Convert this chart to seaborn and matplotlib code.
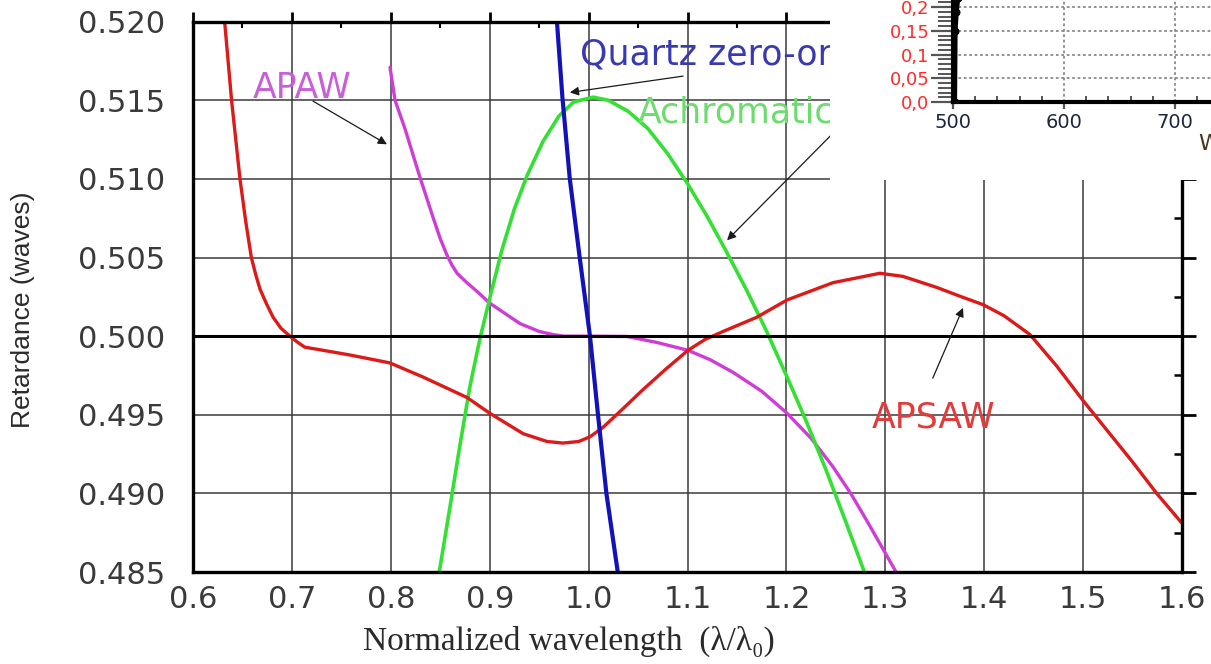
import matplotlib
matplotlib.use("Agg")
import matplotlib.pyplot as plt
import seaborn as sns
from matplotlib.patches import Rectangle
from matplotlib.ticker import MultipleLocator, FormatStrFormatter, FixedLocator, FixedFormatter

# ---------------- data ----------------
apsaw_x = [0.632, 0.639, 0.6475, 0.6533, 0.659, 0.6635, 0.6677, 0.674, 0.681, 0.689,
           0.698, 0.706, 0.713, 0.7315, 0.7588, 0.799, 0.8326, 0.877, 0.900, 0.9337, 0.958,
           0.974, 0.990, 1.0014, 1.0146, 1.035, 1.055, 1.078, 1.1005, 1.118, 1.136,
           1.170, 1.2006, 1.247, 1.2946, 1.318, 1.352, 1.375, 1.399, 1.420, 1.4463,
           1.4733, 1.500, 1.550, 1.5744, 1.600]
apsaw_y = [0.5200, 0.5150, 0.5100, 0.5073, 0.5050, 0.5039, 0.5030, 0.5021, 0.5012, 0.5005,
           0.5000, 0.4996, 0.4993, 0.4991, 0.4988, 0.4983, 0.4974, 0.4961, 0.4951, 0.4938, 0.4933,
           0.4932, 0.4933, 0.4936, 0.4942, 0.4954, 0.4966, 0.4979, 0.4991, 0.4998, 0.5003,
           0.5012, 0.5023, 0.5034, 0.5040, 0.5038, 0.5031, 0.50255, 0.5020, 0.5013, 0.5001,
           0.4981, 0.4959, 0.4920, 0.4900, 0.4881]

apaw_x = [0.7992, 0.8043, 0.8143, 0.8295, 0.843, 0.850, 0.8565, 0.862, 0.867, 0.877, 0.888,
          0.900, 0.9306, 0.950, 0.964, 0.975, 1.000, 1.039, 1.069, 1.1005, 1.123,
          1.146, 1.175, 1.2006, 1.225, 1.247, 1.265, 1.281, 1.3118]
apaw_y = [0.5171, 0.5150, 0.5132, 0.5101, 0.5075, 0.5062, 0.5052, 0.5045, 0.5040, 0.5034, 0.5028,
          0.5021, 0.5008, 0.5003, 0.5001, 0.5000, 0.5000, 0.49998, 0.4996, 0.4991, 0.4985,
          0.4977, 0.4965, 0.4951, 0.4935, 0.4917, 0.4900, 0.4883, 0.4849]

achro_x = [0.849, 0.860, 0.870, 0.880, 0.890, 0.900, 0.9124, 0.925, 0.9377, 0.954,
           0.970, 0.985, 1.0045, 1.020, 1.040, 1.060, 1.080, 1.100, 1.120, 1.140,
           1.160, 1.180, 1.200, 1.220, 1.240, 1.260, 1.280]
achro_y = [0.4850, 0.4892, 0.4931, 0.4968, 0.4998, 0.5024, 0.5055, 0.5081, 0.5102, 0.5124,
           0.5140, 0.5149, 0.5152, 0.5150, 0.5143, 0.5132, 0.5116, 0.5097, 0.5076, 0.5053,
           0.5029, 0.5003, 0.4975, 0.4946, 0.4915, 0.4882, 0.4848]

quartz_x = [0.968, 0.9735, 0.981, 0.991, 1.0014, 1.0095, 1.018, 1.0297]
quartz_y = [0.5200, 0.5152, 0.5100, 0.5050, 0.5000, 0.4950, 0.4900, 0.4849]

series_names = ["APAW", "Quartz zero-order", "Achromatic", "APSAW"]

inset_ytick_vals = [0.0, 0.05, 0.1, 0.15, 0.2]
inset_ytick_labels = ["0,0", "0,05", "0,1", "0,15", "0,2"]
inset_xtick_vals = [500, 600, 700]
spike_x = [501.5, 502.0, 503.0, 504.5]
spike_y = [0.0, 0.15, 0.19, 0.22]

# ---------------- style ----------------
sns.set_theme(style="white")
plt.rcParams["font.family"] = ["DejaVu Sans"]

W, H = 1211, 664
fig = plt.figure(figsize=(W / 100, H / 100), dpi=100)
fig.patch.set_facecolor("white")

ax = fig.add_axes([193 / W, (H - 572) / H, (1182 - 193) / W, (572 - 21.7) / H])

red, mag, green, blue = "#dc1a1a", "#cf3cd6", "#33e033", "#1212b8"
common = dict(ax=ax, sort=False, estimator=None, zorder=2)
sns.lineplot(x=apaw_x, y=apaw_y, color=mag, lw=2.4, **common)
sns.lineplot(x=achro_x, y=achro_y, color=green, lw=2.6, **common)
sns.lineplot(x=apsaw_x, y=apsaw_y, color=red, lw=2.4, **common)
sns.lineplot(x=quartz_x, y=quartz_y, color=blue, lw=3.0, **common)
ax.axhline(0.5, color="black", lw=2.2, zorder=2.5)

ax.set_xlim(0.6, 1.6)
ax.set_ylim(0.485, 0.520)
ax.xaxis.set_major_locator(MultipleLocator(0.1))
ax.xaxis.set_minor_locator(MultipleLocator(0.05))
ax.yaxis.set_major_locator(MultipleLocator(0.005))
ax.yaxis.set_minor_locator(MultipleLocator(0.0025))
ax.xaxis.set_major_formatter(FormatStrFormatter("%.1f"))
ax.yaxis.set_major_formatter(FormatStrFormatter("%.3f"))

ax.grid(True, which="major", color="#3a3a3a", lw=1.1)
ax.set_axisbelow(True)
for s in ax.spines.values():
    s.set_visible(True)
    s.set_color("black")
    s.set_linewidth(2.4)

ax.tick_params(which="both", top=True, right=True, labeltop=False, labelright=False,
               colors="black", labelcolor="#3a3a3a", labelsize=22, width=2)
ax.tick_params(axis="y", which="major", direction="out", length=10, pad=10)
ax.tick_params(axis="x", which="major", direction="out", length=7, pad=2)
ax.tick_params(axis="y", which="minor", direction="in", length=6, width=1.8)
ax.tick_params(axis="x", which="minor", direction="in", length=4, width=1.5)

ax.set_ylabel("Retardance (waves)", fontsize=19, color="#2a2a2a",
              family=["Liberation Sans", "DejaVu Sans"])
ax.yaxis.set_label_coords(-0.16, 0.476)
ax.set_xlabel("Normalized wavelength  (λ/λ₀)", fontsize=24, color="#2a2a2a",
              family=["Liberation Serif", "DejaVu Serif"])
ax.xaxis.set_label_coords(0.38, -0.097)

# annotations
arrow = dict(arrowstyle="-|>", color="#1a1a1a", lw=0.9, mutation_scale=13, shrinkA=0, shrinkB=0)
lab_font = ["DejaVu Sans"]
ax.text(0.6607, 0.51515, series_names[0], color="#c85fd8", fontsize=25, family=lab_font, va="baseline")
ax.annotate("", xy=(0.7961, 0.5122), xytext=(0.7213, 0.51495), arrowprops=arrow)
ax.text(0.9913, 0.51725, series_names[1], color="#3a3ab0", fontsize=25, family=lab_font, va="baseline")
ax.annotate("", xy=(0.981, 0.5155), xytext=(1.0955, 0.51654), arrowprops=arrow)
ax.text(1.050, 0.51356, series_names[2], color="#6cdc6c", fontsize=25, family=lab_font, va="baseline")
ax.annotate("", xy=(1.140, 0.5061), xytext=(1.247, 0.5129), arrowprops=arrow)
ax.text(1.2866, 0.49422, series_names[3], color="#e03c3c", fontsize=25, family=lab_font, va="baseline")
ax.annotate("", xy=(1.3786, 0.5018), xytext=(1.348, 0.49733), arrowprops=arrow)

# ---------------- inset (cropped in the reference) ----------------
cover = Rectangle((830 / W, (H - 180) / H), 1 - 830 / W, 180 / H, transform=fig.transFigure,
                  facecolor="white", edgecolor="none", zorder=5)
fig.add_artist(cover)

ins = fig.add_axes([953 / W, (H - 102) / H, (W - 953) / W, 102 / H])
ins.set_zorder(6)
sns.lineplot(x=spike_x, y=spike_y, ax=ins, color="black", lw=3.5, sort=False, estimator=None,
             marker="o", markersize=5, markeredgecolor="black")
ins.set_xlim(500, 500 + (W - 953) / 1.11)
ins.set_ylim(0, 102 / 475)
ins.xaxis.set_major_locator(FixedLocator(inset_xtick_vals))
ins.xaxis.set_minor_locator(MultipleLocator(20))
ins.yaxis.set_major_locator(FixedLocator(inset_ytick_vals))
ins.yaxis.set_major_formatter(FixedFormatter(inset_ytick_labels))
ins.yaxis.set_minor_locator(MultipleLocator(0.01))
ins.grid(True, which="major", color="#8a8a8a", lw=1.3, ls=(0, (1.5, 1.5)))
ins.spines["top"].set_visible(False)
ins.spines["right"].set_visible(False)
for side in ("left", "bottom"):
    ins.spines[side].set_linewidth(3)
    ins.spines[side].set_color("black")
ins.tick_params(axis="y", which="major", direction="out", length=16, width=1.6, color="#555555",
                labelsize=13, labelcolor="#ff2a2a", pad=1, left=True)
ins.tick_params(axis="y", which="minor", direction="out", length=11, width=1.4, color="#555555", left=True)
ins.tick_params(axis="x", which="major", direction="out", length=5, width=1.6, color="#555555",
                labelsize=14, labelcolor="#1c2541", pad=3, bottom=True)
ins.tick_params(axis="x", which="minor", direction="in", length=4, width=1.4, color="#555555", bottom=True)
ins.set_xlabel("")
ins.set_ylabel("")
fig.text(1199 / W, (H - 150) / H, "Wavelength (nm)", fontsize=16, color="#4a3520",
         va="baseline", zorder=7)

fig.savefig("out.png", dpi=100, facecolor="white")
